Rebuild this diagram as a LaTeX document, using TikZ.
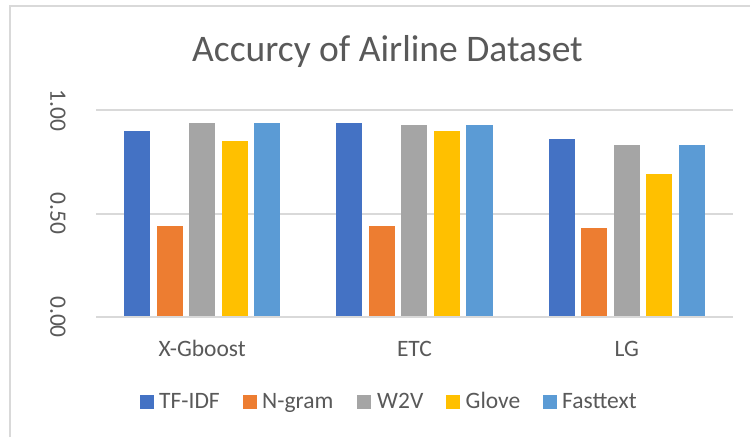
\documentclass[tikz,border=0pt]{standalone}
\usepackage{fontspec}
\setmainfont{Carlito}
\usetikzlibrary{positioning}

\definecolor{tfidf}{HTML}{4472C4}
\definecolor{ngram}{HTML}{ED7D31}
\definecolor{wtov}{HTML}{A5A5A5}
\definecolor{glove}{HTML}{FFC000}
\definecolor{fasttext}{HTML}{5B9BD5}
\definecolor{txtgray}{HTML}{595959}
\definecolor{gridgray}{HTML}{D9D9D9}

\tikzset{
  gridline/.style={gridgray, line width=2pt},
  ticklabel/.style={text=txtgray, font=\fontsize{23.5}{28}\selectfont, rotate=-90, inner sep=0pt},
  catlabel/.style={text=txtgray, font=\fontsize{23.5}{28}\selectfont, anchor=base, inner sep=0pt},
  legsq/.style={minimum size=14pt, inner sep=0pt},
  legtext/.style={text=txtgray, font=\fontsize{23.5}{28}\selectfont, anchor=base west, inner sep=0pt}
}

\begin{document}
\begin{tikzpicture}[x=1pt,y=-1pt]
    \useasboundingbox (0,0) rectangle (750,437);
    \fill[white] (0,0) rectangle (750,437);

    % outer chart frame
    \draw[gridgray, line width=2pt] (10,437) -- (10,6) -- (750,6);

    \node[text=txtgray, font=\fontsize{37.5}{44}\selectfont, anchor=base, inner sep=0pt] (title) at (387.5,61) {Accurcy of Airline Dataset};

    % value axis: 0 at y=317, 1 unit = 206.7
    \foreach \v/\lab/\nm in {0/0.00/zero, 0.5/0.50/half, 1/1.00/one}{
        \draw[gridline] (96,{317-206.7*\v}) -- (733,{317-206.7*\v});
        \node[ticklabel] (tick\nm) at (58,{317-206.7*\v}) {\lab};
    }

    % bars: group/position/colour/value
    \foreach \i/\j/\col/\v in {0/0/tfidf/0.90, 0/1/ngram/0.44, 0/2/wtov/0.94, 0/3/glove/0.85, 0/4/fasttext/0.94,
                               1/0/tfidf/0.94, 1/1/ngram/0.44, 1/2/wtov/0.93, 1/3/glove/0.90, 1/4/fasttext/0.93,
                               2/0/tfidf/0.86, 2/1/ngram/0.43, 2/2/wtov/0.83, 2/3/glove/0.69, 2/4/fasttext/0.83}{
        \fill[\col] ({96+212.33*(\i+0.5)+32.5*(\j-2)-13},316) rectangle ++(26,{-206.7*\v+1});
    }

    \foreach \cat/\nm [count=\i from 0] in {X-Gboost/xgb, ETC/etc, LG/lg}{
        \node[catlabel] (cat\nm) at ({96+212.33*(\i+0.5)},356) {\cat};
    }

    % legend
    \foreach \col/\lab/\sx/\tx in {tfidf/TF-IDF/147/159, ngram/N-gram/250/262, wtov/W2V/364/377,
                                   glove/Glove/453/465.5, fasttext/Fasttext/550/562}{
        \node[legsq, fill=\col] (sq\col) at (\sx,402) {};
        \node[legtext] (lab\col) at (\tx,408) {\lab};
    }
\end{tikzpicture}
\end{document}
